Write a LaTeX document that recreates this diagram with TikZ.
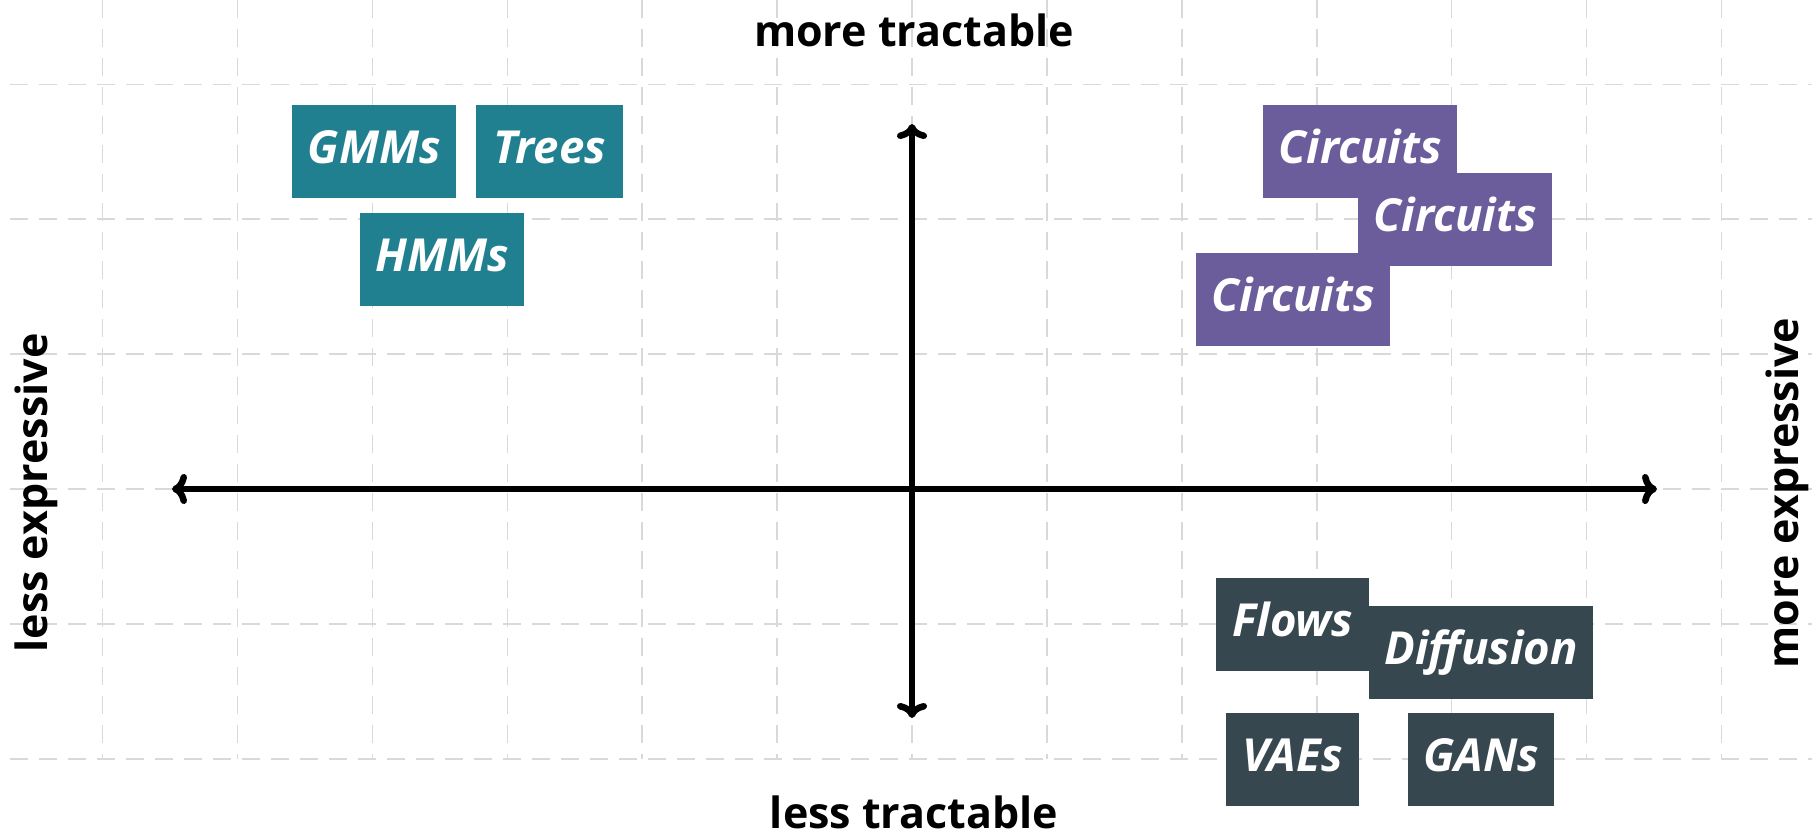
\documentclass[tikz,border=0pt]{standalone}
\usepackage{fontspec}
\setmainfont{Open Sans}
\usetikzlibrary{arrows.meta}
\definecolor{tealbox}{HTML}{21808F}
\definecolor{violetbox}{HTML}{6B5D9B}
\definecolor{slatebox}{HTML}{37474F}
\definecolor{gridgray}{HTML}{D9D9D9}
\begin{document}
\begin{tikzpicture}[x=1pt,y=-1pt,
  gridline/.style={draw=gridgray, line width=1.6pt, dash pattern=on 18pt off 11pt},
  axisline/.style={line width=6.5pt, line cap=round, {Computer Modern Rightarrow[length=15pt,width=30pt,line cap=round,line join=round]}-{Computer Modern Rightarrow[length=15pt,width=30pt,line cap=round,line join=round]}},
  model/.style={rectangle, inner sep=0pt, minimum height=93pt, anchor=north west,
    text=white, font=\fontsize{45.5}{45.5}\selectfont\bfseries\itshape,
    text height=23pt, text depth=0pt},
  classic/.style={model, fill=tealbox},
  circuit/.style={model, fill=violetbox, minimum width=194pt},
  deep/.style={model, fill=slatebox},
  axislabel/.style={inner sep=0pt, anchor=base, font=\fontsize{43}{43}\selectfont\bfseries}
]
\useasboundingbox (0,0) rectangle (1812,835);
\fill[white] (0,0) rectangle (1812,835);

% background grid
\foreach \k in {-6,...,6}
  \draw[gridline] ({912+134.9*\k},0) -- ({912+134.9*\k},759);
\foreach \k in {-3,...,2}
  \draw[gridline] (10,{489+134.9*\k}) -- (1812,{489+134.9*\k});

% axes
\coordinate (top) at (912,124);
\coordinate (bottom) at (912,718);
\coordinate (left) at (172,489);
\coordinate (right) at (1657,489);
\draw[axisline] (bottom) -- (top);
\draw[axisline] (left) -- (right);

% axis labels
\node[axislabel] (moretract) at (914,46) {more tractable};
\node[axislabel] (lesstract) at (914,828) {less tractable};
\node[axislabel, rotate=90] (lessexpr) at (47,493) {less expressive};
\node[axislabel, rotate=90] (moreexpr) at (1798,493) {more expressive};

% classical models
\node[classic, minimum width=164pt] (gmms) at (292,105) {GMMs};
\node[classic, minimum width=147pt] (trees) at (476,105) {Trees};
\node[classic, minimum width=164pt] (hmms) at (360,213) {HMMs};

% circuits
\node[circuit] (circuitsA) at (1263,105) {Circuits};
\node[circuit] (circuitsB) at (1358,173) {Circuits};
\node[circuit] (circuitsC) at (1196,253) {Circuits};

% deep generative models
\node[deep, minimum width=153pt] (flows) at (1216,578) {Flows};
\node[deep, minimum width=224pt] (diffusion) at (1369,606) {Diffusion};
\node[deep, minimum width=133pt] (vaes) at (1226,713) {VAEs};
\node[deep, minimum width=146pt] (gans) at (1408,713) {GANs};
\end{tikzpicture}
\end{document}
